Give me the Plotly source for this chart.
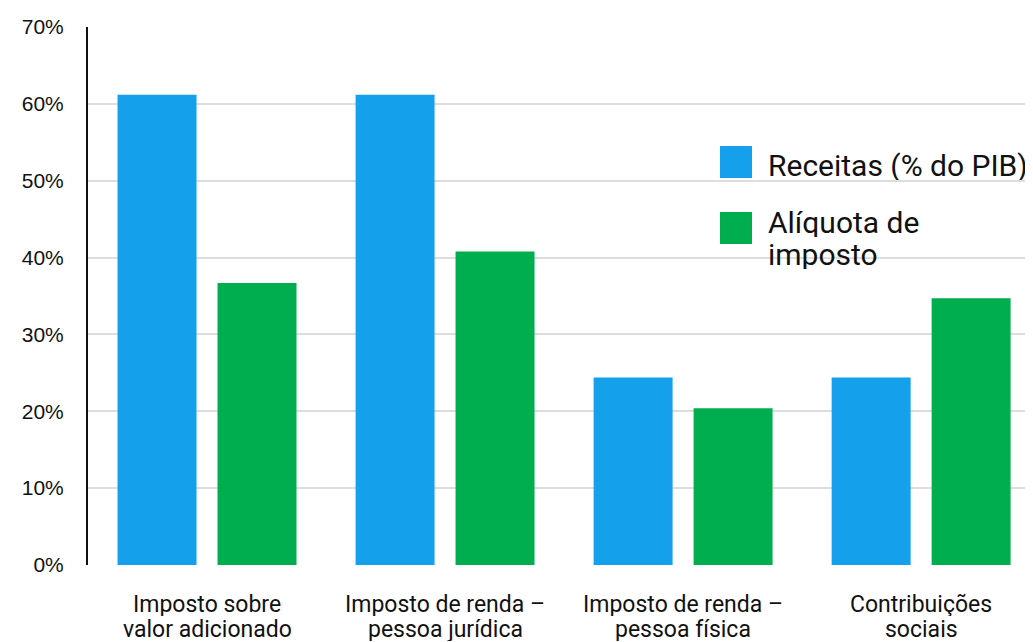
import plotly.graph_objects as go

categories = ["Imposto sobre<br>valor adicionado", "Imposto de renda –<br>pessoa jurídica",
              "Imposto de renda –<br>pessoa física", "Contribuições<br>sociais"]
series_names = ["Receitas (% do PIB)", "Alíquota de<br>imposto"]
receitas = [61.2, 61.2, 24.4, 24.4]
aliquota = [36.7, 40.8, 20.4, 34.7]
y_ticks = [0, 10, 20, 30, 40, 50, 60, 70]
y_tick_labels = ["0%", "10%", "20%", "30%", "40%", "50%", "60%", "70%"]
colors = ["#14A0EA", "#00AE50"]

font_main = "Roboto, 'Noto Sans', sans-serif"
TXT = "#111111"

# page offset (browser body margin) compensation
OFF = 8
W, H = 1033 - OFF, 642 - OFF
PL, PT, PB = 88, 27, 565          # plot-area edges in page pixels
PW, PHt = 1033 - PL, PB - PT


def px(xp):
    return (xp - PL) / PW


def py(yp):
    return (PB - yp) / PHt


xs = list(range(len(categories)))
fig = go.Figure()
fig.add_trace(go.Bar(x=xs, y=receitas, name=series_names[0].replace("<br>", " "),
                     marker=dict(color=colors[0], line=dict(width=0)), showlegend=False))
fig.add_trace(go.Bar(x=xs, y=aliquota, name=series_names[1].replace("<br>", " "),
                     marker=dict(color=colors[1], line=dict(width=0)), showlegend=False))

fig.update_layout(
    width=W, height=H,
    margin=dict(l=PL - OFF, r=0, t=PT - OFF, b=(642 - PB)),
    paper_bgcolor="white", plot_bgcolor="white",
    barmode="group", bargap=0.16, bargroupgap=0.21,
    font=dict(family=font_main, color=TXT),
    xaxis=dict(range=[-0.5, 3.47], tickmode="array", tickvals=xs,
               showticklabels=False, showgrid=False, zeroline=False, showline=False, ticks=""),
    yaxis=dict(range=[0, 70], tickmode="array", tickvals=y_ticks, ticktext=y_tick_labels,
               showgrid=True, gridcolor="#DDDDDD", gridwidth=2, zeroline=False,
               showline=True, linecolor=TXT, linewidth=2,
               ticks="", tickfont=dict(size=21, family="'Liberation Sans', Arial, sans-serif", color=TXT),
               ticklabelstandoff=18),
)

# category labels (two tight lines each)
line_centers = [604, 629]
for xi, cat in zip(xs, categories):
    for li, part in enumerate(cat.split("<br>")):
        fig.add_annotation(xref="x", yref="paper", x=xi, y=py(line_centers[li]),
                           xanchor="center", yanchor="middle", text=part, showarrow=False,
                           height=24,
                           font=dict(size=23, family=font_main, color=TXT))

# custom legend with large swatches
swatch_centers = [162, 228]
text_centers = [[165], [222, 254]]
for i, name in enumerate(series_names):
    yc = swatch_centers[i]
    fig.add_shape(type="rect", xref="paper", yref="paper",
                  x0=px(720), x1=px(752), y0=py(yc + 16), y1=py(yc - 16),
                  fillcolor=colors[i], line=dict(width=0))
    for part, tc in zip(name.split("<br>"), text_centers[i]):
        fig.add_annotation(xref="paper", yref="paper", x=px(766), y=py(tc),
                           xanchor="left", yanchor="middle", text=part, showarrow=False,
                           align="left", height=30,
                           font=dict(size=30, family=font_main, color=TXT))

fig.write_html("out.html")
